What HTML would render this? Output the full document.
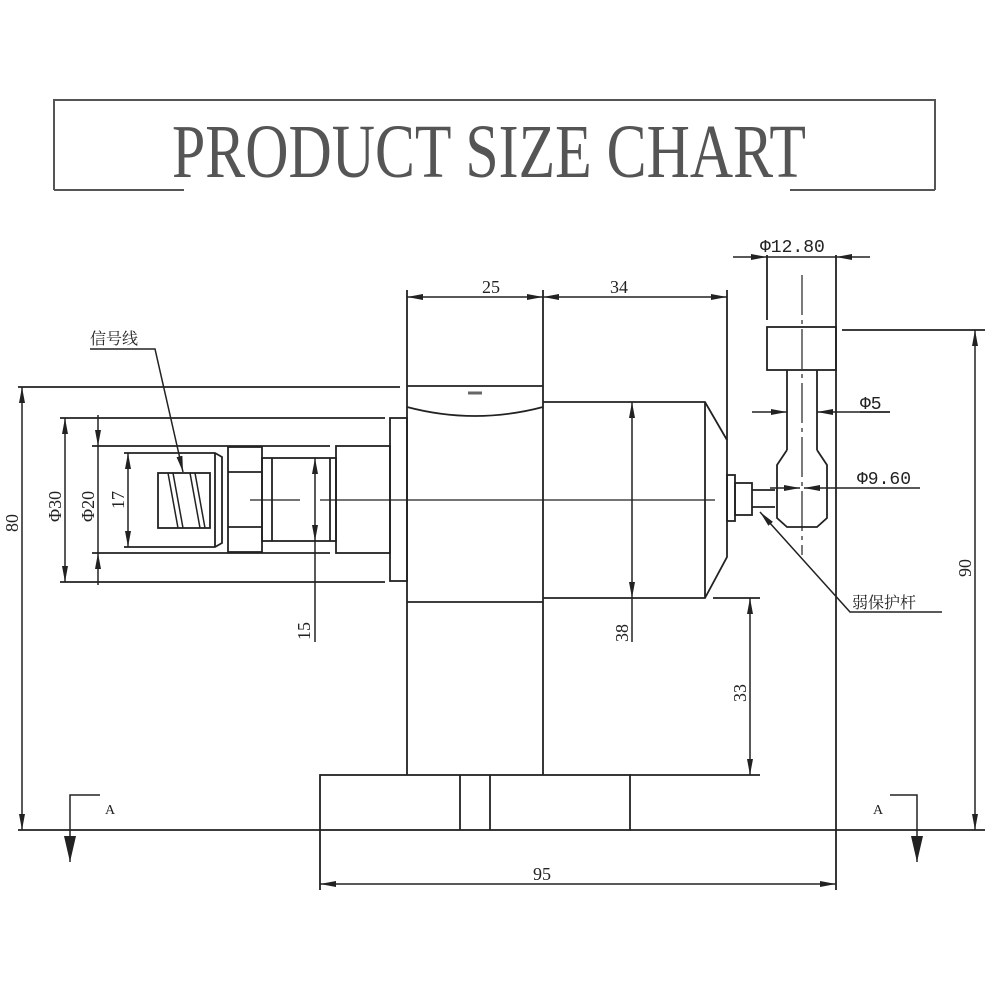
<!DOCTYPE html>
<html><head><meta charset="utf-8"><style>
html,body{margin:0;padding:0;background:#fff;}
svg{display:block;}
text{font-family:"Liberation Serif","Noto Sans CJK SC",serif;fill:#222;}
</style></head><body>
<svg width="1000" height="984" viewBox="0 0 1000 984" xmlns="http://www.w3.org/2000/svg">
<defs>
<marker id="a" viewBox="0 0 16 6" refX="16" refY="3" markerWidth="16" markerHeight="6" orient="auto-start-reverse" markerUnits="userSpaceOnUse" preserveAspectRatio="none"><path d="M0,0 L16,3 L0,6 z" fill="#222"/></marker>
<marker id="b" viewBox="0 0 26 12" refX="26" refY="6" markerWidth="26" markerHeight="12" orient="auto" markerUnits="userSpaceOnUse" preserveAspectRatio="none"><path d="M0,0 L26,6 L0,12 z" fill="#222"/></marker>
</defs>
<!-- title box -->
<g stroke="#555" stroke-width="2" fill="none">
<path d="M54,190 V100 H935 V190"/>
<path d="M54,190 H184 M790,190 H935"/>
</g>
<text x="172" y="177" font-size="76" textLength="634" lengthAdjust="spacingAndGlyphs" style="font-family:'Liberation Serif',serif;fill:#555">PRODUCT SIZE CHART</text>

<g stroke="#222" stroke-width="1.8" fill="none">
<path d="M407,386 V775 M543,400 V775 M407,386 H543"/>
<path d="M407,407 Q475,425 543,407"/>
<path d="M468,393 H482" stroke-width="3" stroke="#666"/>
<path d="M407,602 H543"/>
<path d="M543,402 H705 L727,440 V557 L705,598 H543"/>
<path d="M705,402 V598"/>
<rect x="727" y="475" width="8" height="46"/>
<rect x="735" y="483" width="17" height="32"/>
<path d="M752,490 H775 M752,507 H775"/>
<rect x="320" y="775" width="310" height="55"/>
<path d="M460,775 V830 M490,775 V830"/>
<rect x="390" y="418" width="17" height="163"/>
<rect x="336" y="446" width="54" height="107"/>
<rect x="262" y="458" width="74" height="83"/>
<path d="M272,458 V541 M330,458 V541"/>
<rect x="228" y="447" width="34" height="105"/>
<path d="M228,472 H262 M228,527 H262"/>
<path d="M124,453 H215 L222,457 V543 L215,547 H124"/>
<path d="M215,453 V547"/>
<rect x="158" y="473" width="52" height="55"/>
<path d="M168,473 L178,528 M173,473 L183,528 M190,473 L200,528 M195,473 L205,528" stroke-width="1.5"/>
<path d="M250,500 H300 M320,500 H715" stroke-width="1.3"/>
<path d="M18,387 H400 M60,418 H385 M60,582 H385 M92,446 H330 M92,553 H330"/>
<rect x="767" y="327" width="69" height="43"/>
<path d="M787,370 V450 M817,370 V450"/>
<path d="M787,450 L777,465 V518 L787,527 H817 L827,518 V465 L817,450"/>
<path d="M802,275 V555" stroke-dasharray="40,5,4,5" stroke-width="1.2"/>
<path d="M767,255 V320 M836,255 V890"/>
<path d="M18,830 H320 M630,830 H985"/>
<path d="M630,775 H760 M713,598 H760 M842,330 H985"/>
<path d="M407,290 V386 M543,290 V400 M727,290 V440"/>
<path d="M320,830 V890"/>
</g>

<g stroke="#222" stroke-width="1.5" fill="none">
<path d="M22,387 V830" marker-start="url(#a)" marker-end="url(#a)"/>
<path d="M65,418 V582" marker-start="url(#a)" marker-end="url(#a)"/>
<path d="M98,415 V446" marker-end="url(#a)"/>
<path d="M98,585 V553" marker-end="url(#a)"/>
<path d="M98,446 V553"/>
<path d="M128,453 V547" marker-start="url(#a)" marker-end="url(#a)"/>
<path d="M315,458 V541" marker-start="url(#a)" marker-end="url(#a)"/>
<path d="M315,541 V642"/>
<path d="M632,402 V598" marker-start="url(#a)" marker-end="url(#a)"/>
<path d="M632,598 V642"/>
<path d="M750,598 V775" marker-start="url(#a)" marker-end="url(#a)"/>
<path d="M975,330 V830" marker-start="url(#a)" marker-end="url(#a)"/>
<path d="M407,297 H543" marker-start="url(#a)" marker-end="url(#a)"/>
<path d="M543,297 H727" marker-start="url(#a)" marker-end="url(#a)"/>
<path d="M320,884 H836" marker-start="url(#a)" marker-end="url(#a)"/>
<path d="M733,257 H767" marker-end="url(#a)"/>
<path d="M870,257 H836" marker-end="url(#a)"/>
<path d="M767,257 H836"/>
<path d="M752,412 H787" marker-end="url(#a)"/>
<path d="M890,412 H817" marker-end="url(#a)"/>
<path d="M860,412 H890"/>
<path d="M770,488 H800" marker-end="url(#a)"/>
<path d="M920,488 H804" marker-end="url(#a)"/>
<path d="M90,349 H155 L183,472" marker-end="url(#a)"/>
<path d="M942,612 H850 L760,512" marker-end="url(#a)"/>
<path d="M100,795 H70 V862" marker-end="url(#b)"/>
<path d="M890,795 H917 V862" marker-end="url(#b)"/>
</g>

<g font-size="18">
<text x="482" y="293">25</text>
<text x="610" y="293">34</text>
<text x="760" y="252" style="font-family:'Liberation Mono',monospace">Φ12.80</text>
<text x="860" y="409" style="font-family:'Liberation Mono',monospace">Φ5</text>
<text x="857" y="484" style="font-family:'Liberation Mono',monospace">Φ9.60</text>
<text x="533" y="880">95</text>
<text x="90" y="344" font-size="16" style="font-family:'Noto Serif CJK SC',serif">信号线</text>
<text x="852" y="608" font-size="16" style="font-family:'Noto Serif CJK SC',serif">弱保护杆</text>
<text x="105" y="814" font-size="14">A</text>
<text x="873" y="814" font-size="14">A</text>
<text transform="translate(18,532) rotate(-90)">80</text>
<text transform="translate(61,522) rotate(-90)">Φ30</text>
<text transform="translate(94,522) rotate(-90)">Φ20</text>
<text transform="translate(124,509) rotate(-90)">17</text>
<text transform="translate(310,640) rotate(-90)">15</text>
<text transform="translate(628,642) rotate(-90)">38</text>
<text transform="translate(746,702) rotate(-90)">33</text>
<text transform="translate(971,577) rotate(-90)">90</text>
</g>
</svg>
</body></html>
